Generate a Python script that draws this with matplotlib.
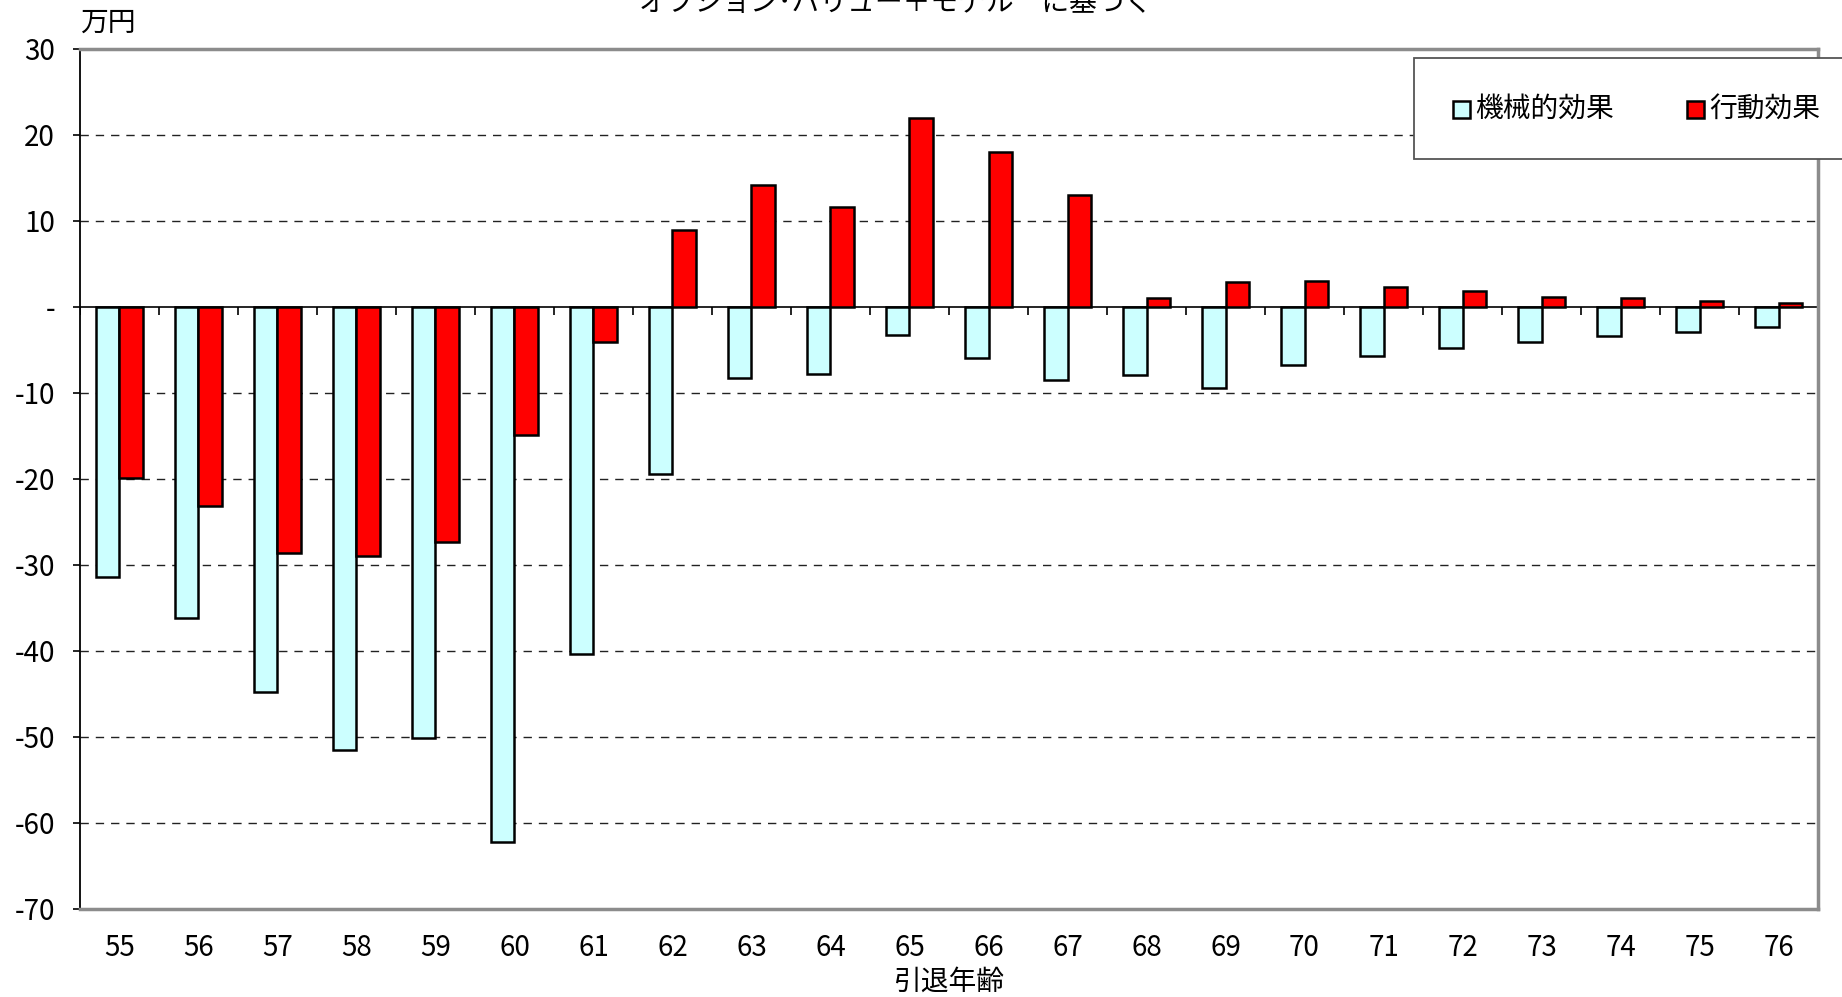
import numpy as np
import matplotlib
matplotlib.use('Agg')
import matplotlib.pyplot as plt
import matplotlib.patches as patches
from matplotlib.ticker import FuncFormatter

plt.rcParams['font.family'] = ['Noto Sans CJK JP', 'DejaVu Sans']

# 引退年齢ごとの効果（万円）
ages = [str(a) for a in range(55, 77)]
mechanical = [-31.4, -36.2, -44.8, -51.5, -50.1, -62.2, -40.3, -19.4, -8.3, -7.8, -3.3,
              -5.9, -8.5, -7.9, -9.4, -6.8, -5.7, -4.8, -4.1, -3.4, -2.9, -2.3]
behavioral = [-19.9, -23.2, -28.6, -29.0, -27.3, -14.9, -4.1, 8.9, 14.2, 11.6, 22.0,
              18.0, 13.0, 1.0, 2.9, 3.0, 2.3, 1.8, 1.2, 1.0, 0.7, 0.5]
yticks = [30, 20, 10, 0, -10, -20, -30, -40, -50, -60, -70]

cyan = '#ccffff'
red = '#ff0000'
fs = 20

fig = plt.figure(figsize=(18.42, 9.97), dpi=100)
ax = fig.add_axes([0.0434, 0.0883, 0.9436, 0.8626])

x = np.arange(len(ages))
w = 0.30
ax.bar(x - w / 2, mechanical, w, color=cyan, edgecolor='black', linewidth=1.8, zorder=3)
ax.bar(x + w / 2, behavioral, w, color=red, edgecolor='black', linewidth=1.8, zorder=3)

ax.set_xlim(-0.5, len(ages) - 0.5)
ax.set_ylim(-70, 30)

# dashed grid, zero line with category-boundary ticks
for v in yticks[1:-1]:
    if v != 0:
        ax.axhline(v, color='#222222', lw=1.0, ls=(0, (6, 5)), zorder=1)
ax.axhline(0, color='black', lw=1.2, zorder=2)
ax.vlines(np.arange(len(ages) + 1) - 0.5, -0.95, 0, color='black', lw=1.2, zorder=2)

ax.set_yticks(yticks)
ax.yaxis.set_major_formatter(FuncFormatter(lambda v, p: '-' if v == 0 else f'{v:.0f}'))
ax.tick_params(axis='y', direction='out', length=5, width=1.2, pad=13, labelsize=fs)
ax.set_xticks(x)
ax.set_xticklabels(ages)
ax.tick_params(axis='x', length=0, pad=17, labelsize=fs)

for s in ['top', 'right', 'bottom']:
    ax.spines[s].set_color('#8c8c8c')
    ax.spines[s].set_linewidth(2.5)
ax.spines['left'].set_color('black')
ax.spines['left'].set_linewidth(1.3)

ax.set_xlabel('引退年齢', fontsize=fs, labelpad=3)
fig.text(0.0434, 0.977, '万円', fontsize=fs, ha='left', va='center')
fig.text(0.486, 0.997, 'オプション･バリュー＋モデル　に基づく', fontsize=fs,
         ha='center', va='center')

# legend box
fig.add_artist(patches.Rectangle((1414 / 1842, 1 - 159 / 997), 440 / 1842, 101 / 997,
                                 transform=fig.transFigure, facecolor='white',
                                 edgecolor='#555555', lw=1.3, zorder=5))
items = [('機械的効果', cyan, 1453), ('行動効果', red, 1687)]
for label, c, px in items:
    fig.add_artist(patches.Rectangle((px / 1842, 1 - 118 / 997), 17 / 1842, 17 / 997,
                                     transform=fig.transFigure, facecolor=c,
                                     edgecolor='black', lw=1.8, zorder=6))
    fig.text((px + 22) / 1842, 1 - 109 / 997, label, fontsize=fs, ha='left',
             va='center', zorder=7)

fig.savefig('out.png', dpi=100)
